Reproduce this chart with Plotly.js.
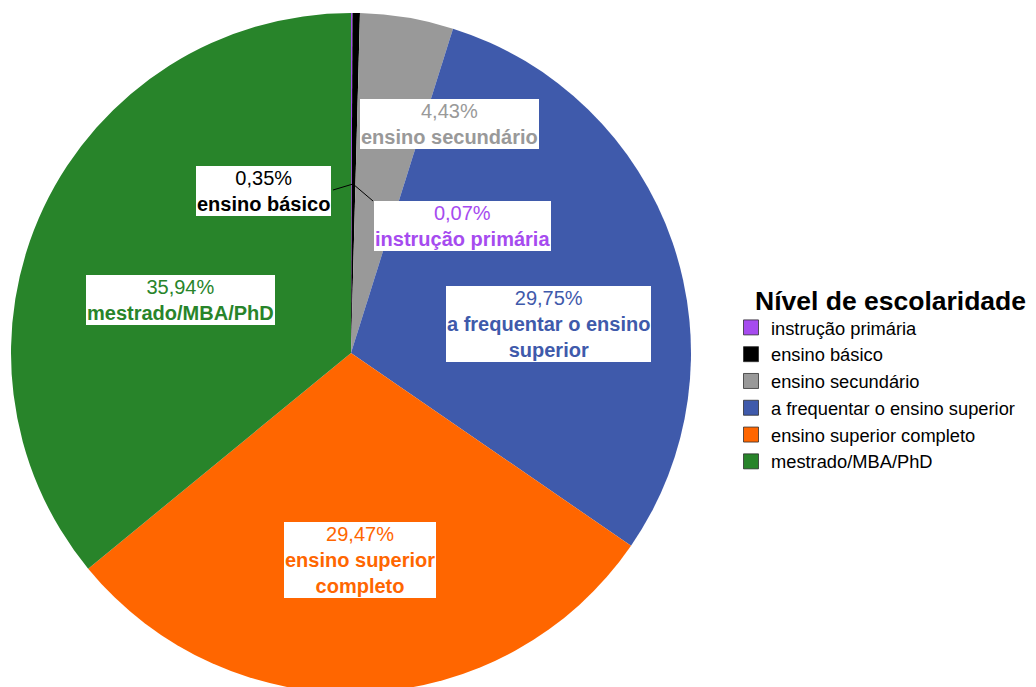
<!DOCTYPE html>
<html>
<head>
<meta charset="utf-8">
<script src="https://cdn.plot.ly/plotly-3.0.1.min.js"></script>
<style>
html,body{margin:0;padding:0;overflow:hidden;background:#fff;}
#chart{width:1036px;height:700px;}
</style>
</head>
<body>
<div id="chart"></div>
<script>
const categories = ["instrução primária","ensino básico","ensino secundário","a frequentar o ensino superior","ensino superior completo","mestrado/MBA/PhD"];
const values = [0.07, 0.35, 4.43, 29.75, 29.47, 35.94];
const valueLabels = ["0,07%","0,35%","4,43%","29,75%","29,47%","35,94%"];
const labelNames = ["instrução primária","ensino básico","ensino secundário","a frequentar o ensino<br>superior","ensino superior<br>completo","mestrado/MBA/PhD"];
const colors = ["#a64bef","#000000","#999999","#3f5aab","#ff6600","#28842a"];
const legendTitle = "Nível de escolaridade";

const W = 1036, H = 700;
const px = x => x / W;
const py = y => 1 - y / H;
const FONT = 'Liberation Sans, Arial, sans-serif';

// label box centres (pixels) for each slice
const labelPos = [[462,226],[263,191],[449,124],[548,324],[360,560],[180,300]];

const annotations = categories.map((c, i) => ({
  xref: 'paper', yref: 'paper',
  x: px(labelPos[i][0]), y: py(labelPos[i][1]),
  xanchor: 'center', yanchor: 'middle',
  text: valueLabels[i] + '<br><b>' + labelNames[i] + '</b>',
  showarrow: false,
  font: {family: FONT, size: 20, color: colors[i]},
  bgcolor: '#ffffff', bordercolor: '#ffffff', borderwidth: 1, borderpad: 0,
  align: 'center'
}));

annotations.push({
  xref: 'paper', yref: 'paper', x: px(753), y: py(301),
  xanchor: 'left', yanchor: 'middle', showarrow: false,
  text: '<b>' + legendTitle + '</b>',
  font: {family: FONT, size: 26.5, color: '#000'}
});

const shapes = [
  {type:'line', xref:'paper', yref:'paper', x0:px(333), y0:py(190), x1:px(353), y1:py(184), line:{color:'#000', width:1}},
  {type:'line', xref:'paper', yref:'paper', x0:px(353), y0:py(184), x1:px(373), y1:py(201), line:{color:'#000', width:1}}
];

const data = [{
  type: 'pie',
  labels: categories,
  values: values,
  sort: false,
  direction: 'clockwise',
  rotation: 0,
  textinfo: 'none',
  hoverinfo: 'label+percent',
  showlegend: false,
  marker: {colors: colors, line: {width: 0}},
  domain: {x: [px(11), px(691)], y: [py(693), py(13)]}
}];

// legend entries (square swatches)
categories.forEach((c, i) => {
  data.push({
    type: 'scatter', mode: 'markers', x: [null], y: [null],
    name: c, showlegend: true, hoverinfo: 'skip',
    marker: {symbol: 'square', size: 15, color: colors[i], line: {color: 'rgba(40,40,40,0.75)', width: 1}}
  });
});

const layout = {
  width: W, height: H,
  margin: {l: 0, r: 0, t: 0, b: 0},
  paper_bgcolor: '#fff',
  plot_bgcolor: 'rgba(0,0,0,0)',
  xaxis: {visible: false, domain: [0.99, 1]},
  yaxis: {visible: false, domain: [0.99, 1]},
  showlegend: true,
  legend: {
    x: px(731), y: py(309), xanchor: 'left', yanchor: 'top',
    font: {family: FONT, size: 18.3, color: '#000'},
    traceorder: 'normal',
    itemwidth: 30,
    itemsizing: 'trace'
  },
  annotations: annotations,
  shapes: shapes
};

Plotly.newPlot('chart', data, layout, {displayModeBar: false, staticPlot: true});
</script>
</body>
</html>
